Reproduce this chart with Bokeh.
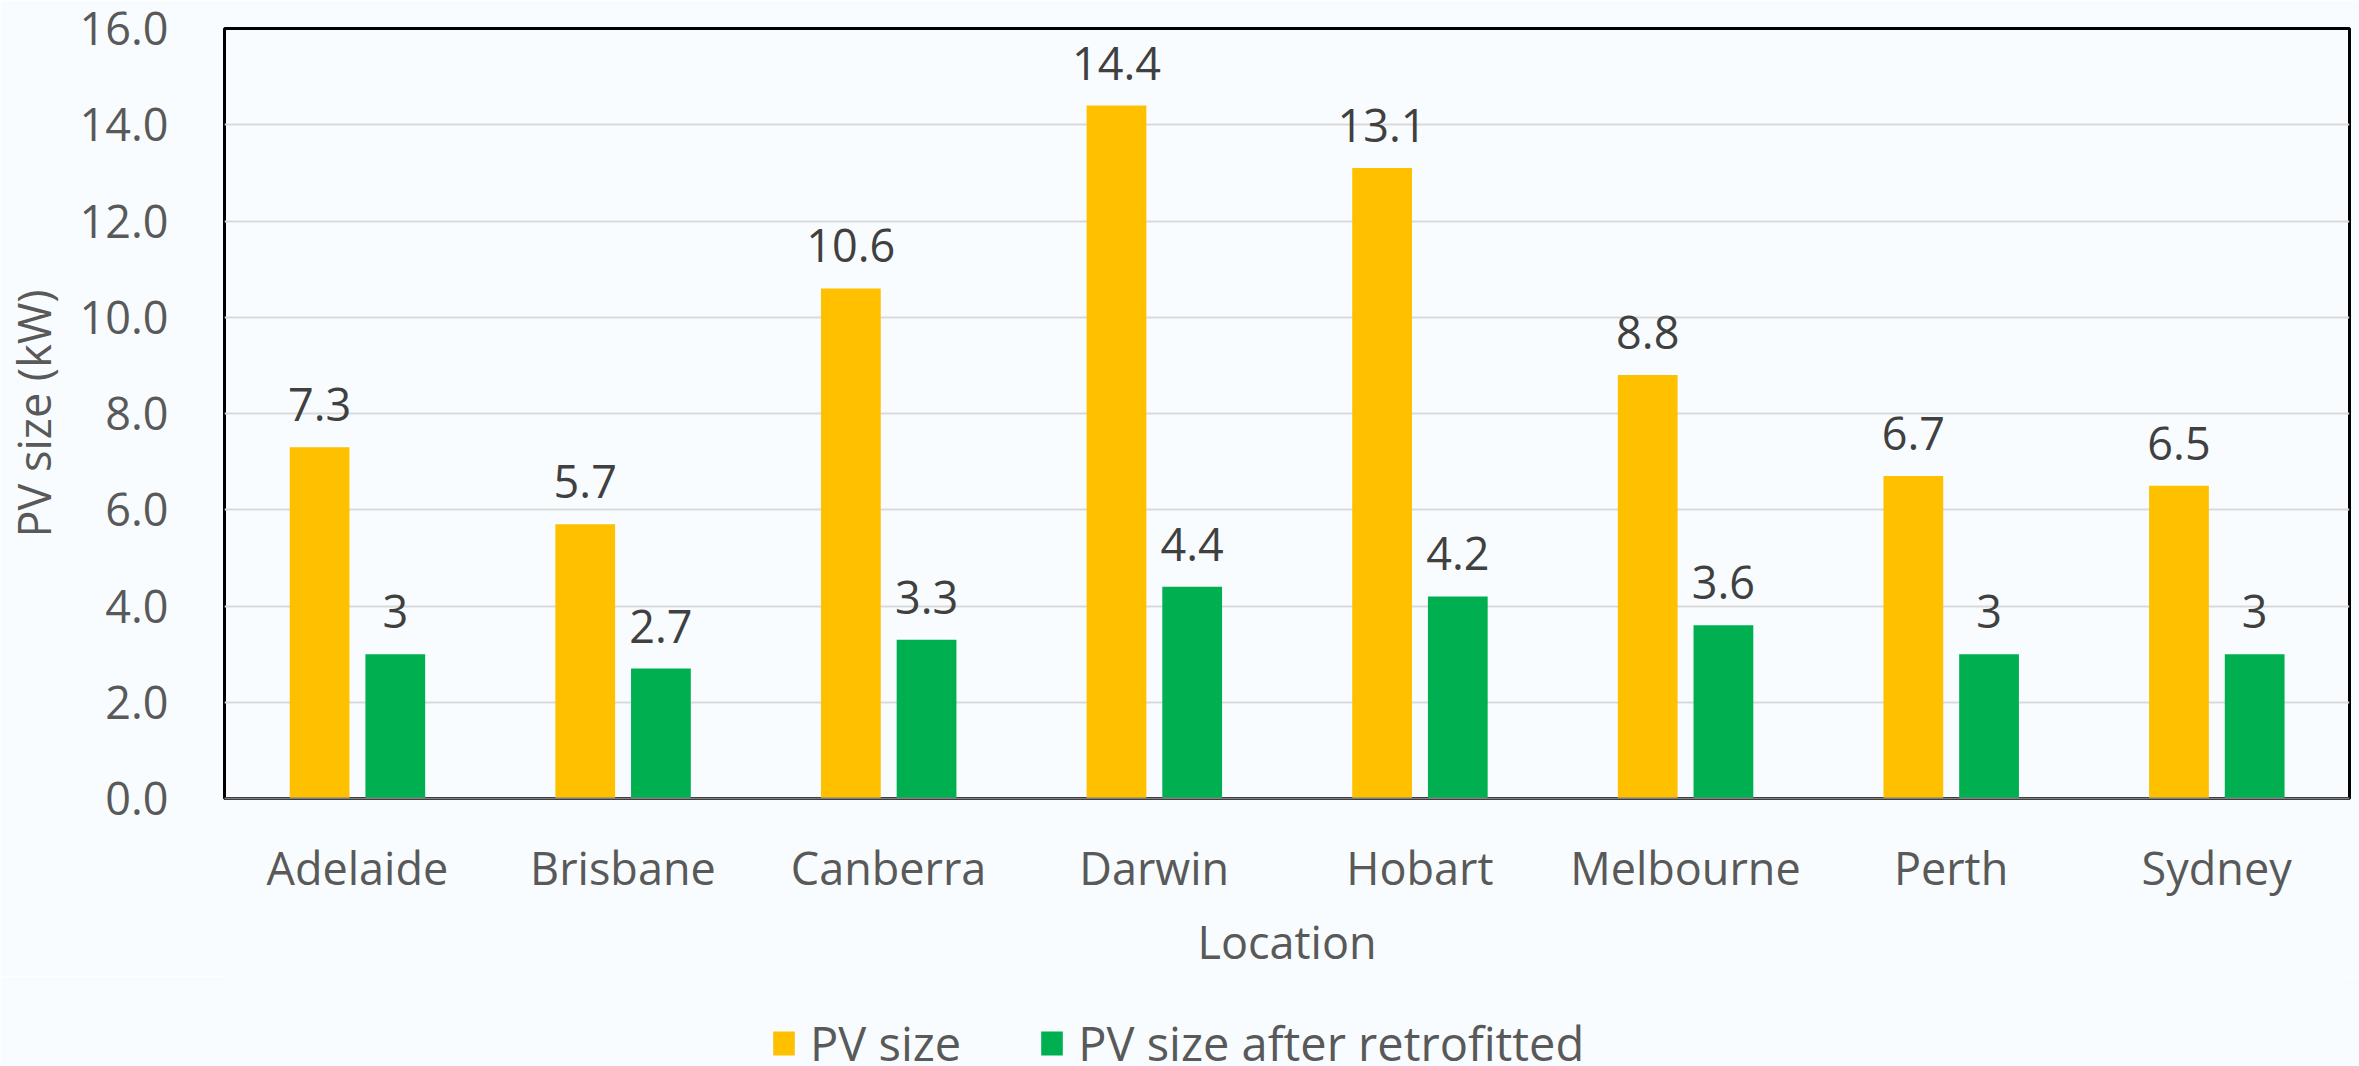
from bokeh.plotting import figure
from bokeh.layouts import column
from bokeh.models import (ColumnDataSource, FactorRange, FixedTicker, NumeralTickFormatter,
                          LabelSet, Legend, LegendItem, Range1d)
from bokeh.core.properties import value
from bokeh.transform import dodge
from bokeh.embed import file_html
from bokeh.resources import INLINE

cities = ["Adelaide", "Brisbane", "Canberra", "Darwin", "Hobart", "Melbourne", "Perth", "Sydney"]
pv_size = [7.3, 5.7, 10.6, 14.4, 13.1, 8.8, 6.7, 6.5]
pv_retro = [3, 2.7, 3.3, 4.4, 4.2, 3.6, 3, 3]
pv_size_labels = ["7.3", "5.7", "10.6", "14.4", "13.1", "8.8", "6.7", "6.5"]
pv_retro_labels = ["3", "2.7", "3.3", "4.4", "4.2", "3.6", "3", "3"]
y_ticks = [0, 2, 4, 6, 8, 10, 12, 14, 16]
series_names = ["PV size", "PV size after retrofitted"]

FONT = "Open Sans"
BG = "#F8FCFE"
YELLOW = "#FFC000"
GREEN = "#00B050"
TXT = "#595959"

src = ColumnDataSource(dict(city=cities, pv=pv_size, retro=pv_retro,
                            pvl=pv_size_labels, retrol=pv_retro_labels))

p = figure(width=2359, height=976, x_range=FactorRange(factors=cities),
           y_range=Range1d(0, 16), output_backend="svg", toolbar_location=None,
           min_border_left=218, min_border_right=10, min_border_top=28, min_border_bottom=178,
           background_fill_color=BG, border_fill_color=BG)

r1 = p.vbar(x=dodge("city", -0.142, range=p.x_range), top="pv", width=0.225, source=src,
            fill_color=YELLOW, line_color=None)
r2 = p.vbar(x=dodge("city", 0.143, range=p.x_range), top="retro", width=0.225, source=src,
            fill_color=GREEN, line_color=None)

for xo, col, lab in [(-0.142, "pv", "pvl"), (0.143, "retro", "retrol")]:
    ls = LabelSet(x=dodge("city", xo, range=p.x_range), y=col, text=lab, source=src,
                  text_align="center", text_baseline="alphabetic", y_offset=26,
                  text_font=value(FONT), text_font_size="45px", text_color="#404040")
    p.add_layout(ls)

p.outline_line_color = "black"
p.outline_line_width = 3
p.xgrid.grid_line_color = None
p.ygrid.grid_line_color = "#D9D9D9"
p.ygrid.grid_line_width = 2

p.yaxis.ticker = FixedTicker(ticks=y_ticks)
p.yaxis.formatter = NumeralTickFormatter(format="0.0")
p.yaxis.axis_line_color = None
p.yaxis.major_tick_line_color = None
p.yaxis.minor_tick_line_color = None
p.yaxis.major_label_standoff = 50
p.yaxis.axis_label = "PV size (kW)"
p.yaxis.axis_label_standoff = 12

p.xaxis.axis_line_color = "#7F7F7F"
p.xaxis.axis_line_width = 2
p.xaxis.major_tick_line_color = None
p.xaxis.minor_tick_line_color = None
p.xaxis.major_label_standoff = 32
p.xaxis.axis_label = "Location"
p.xaxis.axis_label_standoff = 10

for ax in (p.xaxis, p.yaxis):
    ax.major_label_text_font = FONT
    ax.major_label_text_font_size = "45px"
    ax.major_label_text_color = TXT
    ax.axis_label_text_font = FONT
    ax.axis_label_text_font_size = "45px"
    ax.axis_label_text_color = TXT
    ax.axis_label_text_font_style = "normal"

# legend strip below the chart (legend proxies carry no visible data)
q = figure(width=2359, height=90, output_backend="svg", toolbar_location=None,
           x_axis_location=None, y_axis_location=None, min_border=0,
           background_fill_color=BG, border_fill_color=BG, outline_line_color=None,
           x_range=Range1d(0, 1), y_range=Range1d(0, 1))
q.grid.visible = False
nan = float("nan")
lr1 = q.vbar(x=[nan], top=[nan], width=1, fill_color=YELLOW, line_color=None)
lr2 = q.vbar(x=[nan], top=[nan], width=1, fill_color=GREEN, line_color=None)

legend = Legend(items=[LegendItem(label=series_names[0], renderers=[lr1]),
                       LegendItem(label=series_names[1], renderers=[lr2])],
                orientation="horizontal", location=(546, -9),
                padding=0, margin=0, spacing=77, label_standoff=13,
                glyph_width=27, glyph_height=30,
                label_text_font=FONT, label_text_font_size="47px", label_text_color=TXT,
                border_line_color=None, background_fill_alpha=0)
q.add_layout(legend, "center")

open("out.html", "w").write(file_html(column(p, q, spacing=0), INLINE))
